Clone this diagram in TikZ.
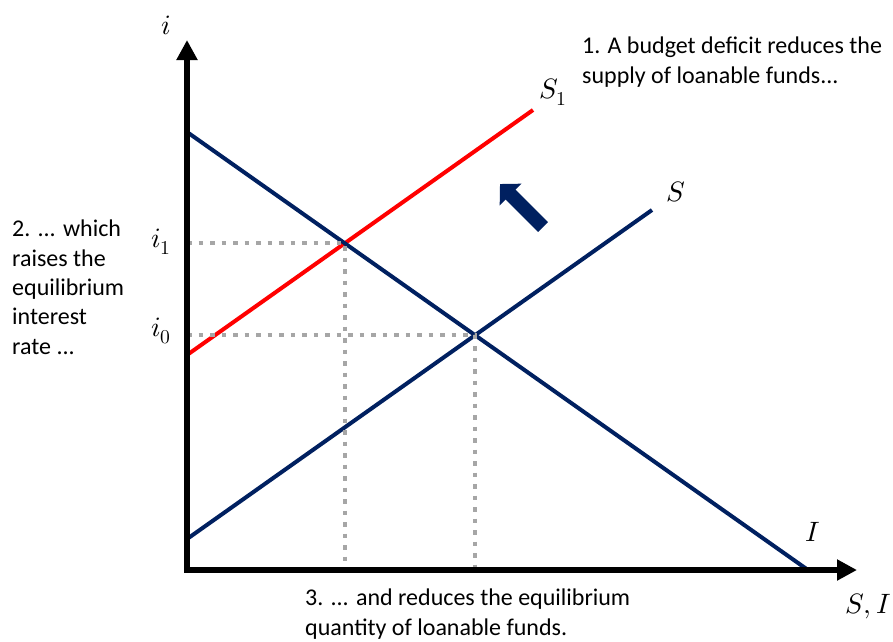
\documentclass[tikz,border=0pt]{standalone}
\usepackage{fontspec}
\usepackage{unicode-math}
\setmainfont{Carlito}
\setmathfont{Latin Modern Math}
\usetikzlibrary{arrows.meta}
\definecolor{navy}{HTML}{002060}
\definecolor{dotgray}{HTML}{A6A6A6}
\tikzset{
  axis/.style={line width=6pt, -{Triangle[width=20pt,length=20pt]}},
  curve/.style={line width=4pt, line cap=butt},
  guide/.style={dotgray, line width=4.5pt, dash pattern=on 4.5pt off 7pt},
  note/.style={font=\fontsize{24}{29.3}\selectfont, align=left, inner sep=0pt},
  lab/.style={font=\fontsize{28}{32}\selectfont, inner sep=0pt},
}
\begin{document}
\begin{tikzpicture}[x=1pt,y=-1pt]
\useasboundingbox (0,0) rectangle (893,641);
% coordinates
\coordinate (O) at (187,570);
\coordinate (Ytop) at (187,40);
\coordinate (Xend) at (857,570);
\coordinate (Xstart) at (184,570);
\coordinate (Ia) at (187,132);
\coordinate (Ib) at (808,570);
\coordinate (Sa) at (187,539);
\coordinate (Sb) at (652,210);
\coordinate (S1a) at (187,355);
\coordinate (S1b) at (533,110);
\coordinate (E1) at (345,243);
\coordinate (E0) at (475,335);
\coordinate (Y1) at (187,243);
\coordinate (Y0) at (187,335);
\coordinate (X1) at (345,570);
\coordinate (X0) at (475,570);
\coordinate (ArrTail) at (543,227);
\coordinate (ArrTip) at (500,184);
% curves
\draw[curve, red] (S1a) -- (S1b);
\draw[curve, navy] (Sa) -- (Sb);
\draw[curve, navy] (Ia) -- (Ib);
% guides
\draw[guide] (Y1) -- (E1) -- (X1);
\draw[guide] (Y0) -- (E0) -- (X0);
% axes
\draw[axis] (O) -- (Ytop);
\draw[axis] (Xstart) -- (Xend);
% shift arrow
\draw[navy, line width=14pt, -{Triangle[width=30pt,length=15pt]}] (ArrTail) -- (ArrTip);
% labels
\node[lab] (li) at (166,25) {$i$};
\node[lab] (li1) at (161,242) {$i_1$};
\node[lab] (li0) at (161,331) {$i_0$};
\node[lab] (lS1) at (553,92) {$S_1$};
\node[lab] (lS) at (676,192) {$S$};
\node[lab] (lI) at (813,532) {$I$};
\node[lab] (lSI) at (868,606) {$S,I$};
% notes
\node[note, anchor=north west] (n1) at (582,37) {1. A budget deficit reduces the\\supply of loanable funds...};
\node[note, anchor=north west] (n2) at (12,220) {2. ... which\\raises the\\equilibrium\\interest\\rate ...};
\node[note, anchor=north west] (n3) at (305,589) {3. ... and reduces the equilibrium\\quantity of loanable funds.};
\end{tikzpicture}
\end{document}
